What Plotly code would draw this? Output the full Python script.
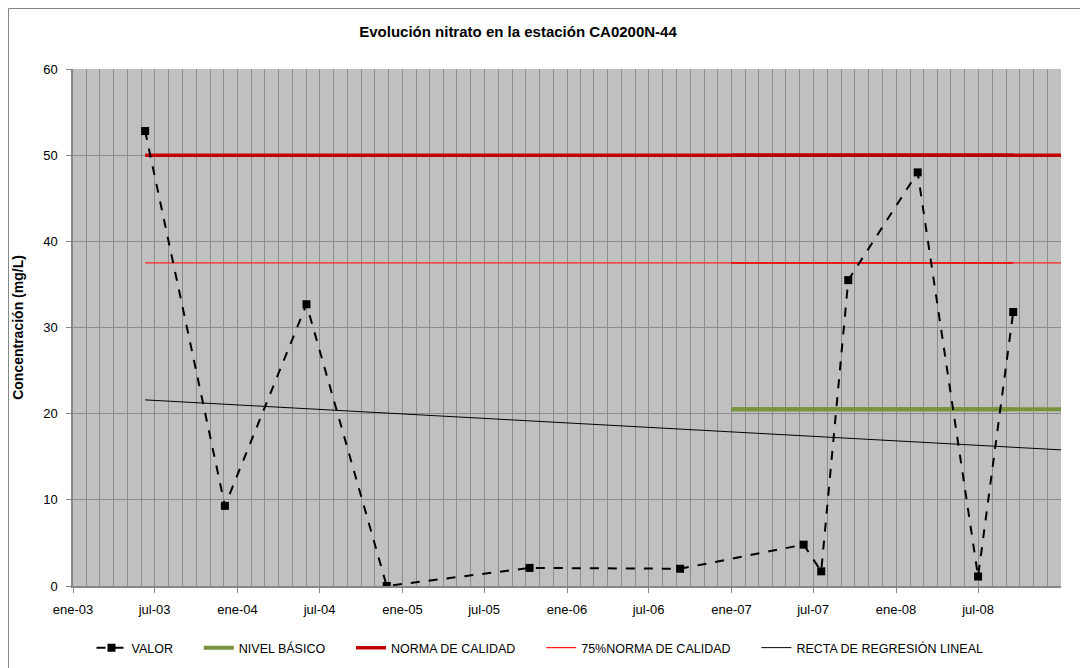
import plotly.graph_objects as go

# Muestras de nitrato (fecha de muestreo, mg/L)
fechas = ['2003-06-10', '2003-12-04', '2004-06-02', '2004-11-27', '2005-10-10', '2006-09-09',
          '2007-06-10', '2007-07-19', '2007-09-17', '2008-02-18', '2008-07-01', '2008-09-17']
valor = [52.8, 9.3, 32.7, 0.0, 2.1, 2.0, 4.8, 1.7, 35.5, 48.0, 1.1, 31.8]

# Niveles de referencia
norma = 50.0
norma75 = 37.5
nivel_basico = 20.5
inicio_basico = '2007-01-01'
fin_eje = '2009-01-01'

# Recta de regresión (extremos)
regresion_x = ['2003-06-10', '2009-01-01']
regresion_y = [21.6, 15.8]

# Eje X
tick_vals = ['2003-01-01', '2003-07-01', '2004-01-01', '2004-07-01', '2005-01-01', '2005-07-01',
             '2006-01-01', '2006-07-01', '2007-01-01', '2007-07-01', '2008-01-01', '2008-07-01']
tick_text = ['ene-03', 'jul-03', 'ene-04', 'jul-04', 'ene-05', 'jul-05',
             'ene-06', 'jul-06', 'ene-07', 'jul-07', 'ene-08', 'jul-08']

FONT = 'Liberation Sans, Arial, sans-serif'
GRID = '#8c8c8c'
AXIS = '#868686'
PAD = '\u00a0' * 6  # separación extra entre entradas de la leyenda

# la página añade 8 px de margen alrededor del gráfico
L, R, T, B = 65, 35, 61, 90
PW, PH = 1088 - L - R, 668 - T - B

fig = go.Figure()

# Nivel básico
fig.add_trace(go.Scatter(x=[inicio_basico, fin_eje], y=[nivel_basico, nivel_basico], mode='lines',
                         name='NIVEL BÁSICO' + PAD, line=dict(color='#77933c', width=4), legendrank=2))
fig.add_trace(go.Scatter(x=[inicio_basico, fechas[-1]], y=[nivel_basico, nivel_basico], mode='lines',
                         showlegend=False, line=dict(color='#77933c', width=4), hoverinfo='skip'))

# Norma de calidad
fig.add_trace(go.Scatter(x=[fechas[0], fin_eje], y=[norma, norma], mode='lines',
                         name='NORMA DE CALIDAD' + PAD, line=dict(color='#c00000', width=3.5), legendrank=3))
fig.add_trace(go.Scatter(x=[inicio_basico, fechas[-1]], y=[norma, norma], mode='lines',
                         showlegend=False, line=dict(color='#b80000', width=3.5), hoverinfo='skip'))

# 75% norma
fig.add_trace(go.Scatter(x=[fechas[0], fin_eje], y=[norma75, norma75], mode='lines',
                         name='75%NORMA DE CALIDAD' + PAD, line=dict(color='#ff2020', width=1.2), legendrank=4))
fig.add_trace(go.Scatter(x=[inicio_basico, fechas[-1]], y=[norma75, norma75], mode='lines',
                         showlegend=False, line=dict(color='#ee0000', width=1.5), hoverinfo='skip'))

# Regresión
fig.add_trace(go.Scatter(x=regresion_x, y=regresion_y, mode='lines',
                         name='RECTA DE REGRESIÓN LINEAL', line=dict(color='black', width=1), legendrank=5))

# Valores
fig.add_trace(go.Scatter(x=fechas, y=valor, mode='lines+markers', name='VALOR' + PAD, legendrank=1,
                         line=dict(color='black', width=2, dash='dash'),
                         marker=dict(symbol='square', size=8, color='black')))

fig.update_layout(
    width=1088, height=668,
    margin=dict(l=L, r=R, t=T, b=B, autoexpand=False),
    paper_bgcolor='white', plot_bgcolor='#c0c0c0',
    font=dict(family=FONT, size=13, color='black'),
    title=dict(text='<b>Evolución nitrato en la estación CA0200N-44</b>',
               font=dict(family=FONT, size=15, color='black'),
               xref='container', x=510 / 1088, xanchor='center',
               yref='container', y=1 - 24 / 668, yanchor='middle'),
    showlegend=True,
    legend=dict(orientation='h', xref='container', x=532 / 1088, xanchor='center',
                yref='container', y=(668 - 640) / 668, yanchor='middle',
                font=dict(family=FONT, size=12.5), traceorder='normal', bgcolor='rgba(0,0,0,0)'),
    shapes=[dict(type='rect', xref='paper', yref='paper', x0=(0.5 - L) / PW, x1=1.2,
                 y0=-0.3, y1=(T + PH - 0.5) / PH, line=dict(color=AXIS, width=1), layer='below')],
)

fig.update_xaxes(
    type='date', range=['2003-01-01', fin_eje],
    tickmode='array', tickvals=tick_vals, ticktext=tick_text,
    ticks='outside', ticklen=5, tickcolor=AXIS, ticklabelstandoff=6,
    showline=True, linecolor=AXIS, linewidth=1.5,
    showgrid=True, gridcolor=GRID, gridwidth=1,
    minor=dict(tickmode='linear', tick0='2003-01-01', dtick='M1', showgrid=True,
               gridcolor=GRID, gridwidth=1, ticks=''),
    tickfont=dict(family=FONT, size=13),
    zeroline=False,
)

fig.update_yaxes(
    range=[0, 60], tickvals=[0, 10, 20, 30, 40, 50, 60],
    ticks='outside', ticklen=5, tickcolor=AXIS, ticklabelstandoff=6,
    showline=True, linecolor=AXIS, linewidth=1.5,
    showgrid=True, gridcolor=GRID, gridwidth=1,
    zeroline=False,
    tickfont=dict(family=FONT, size=13),
    title=dict(text='<b>Concentración (mg/L)</b>', font=dict(family=FONT, size=14), standoff=16),
)

fig.write_html('out.html')
